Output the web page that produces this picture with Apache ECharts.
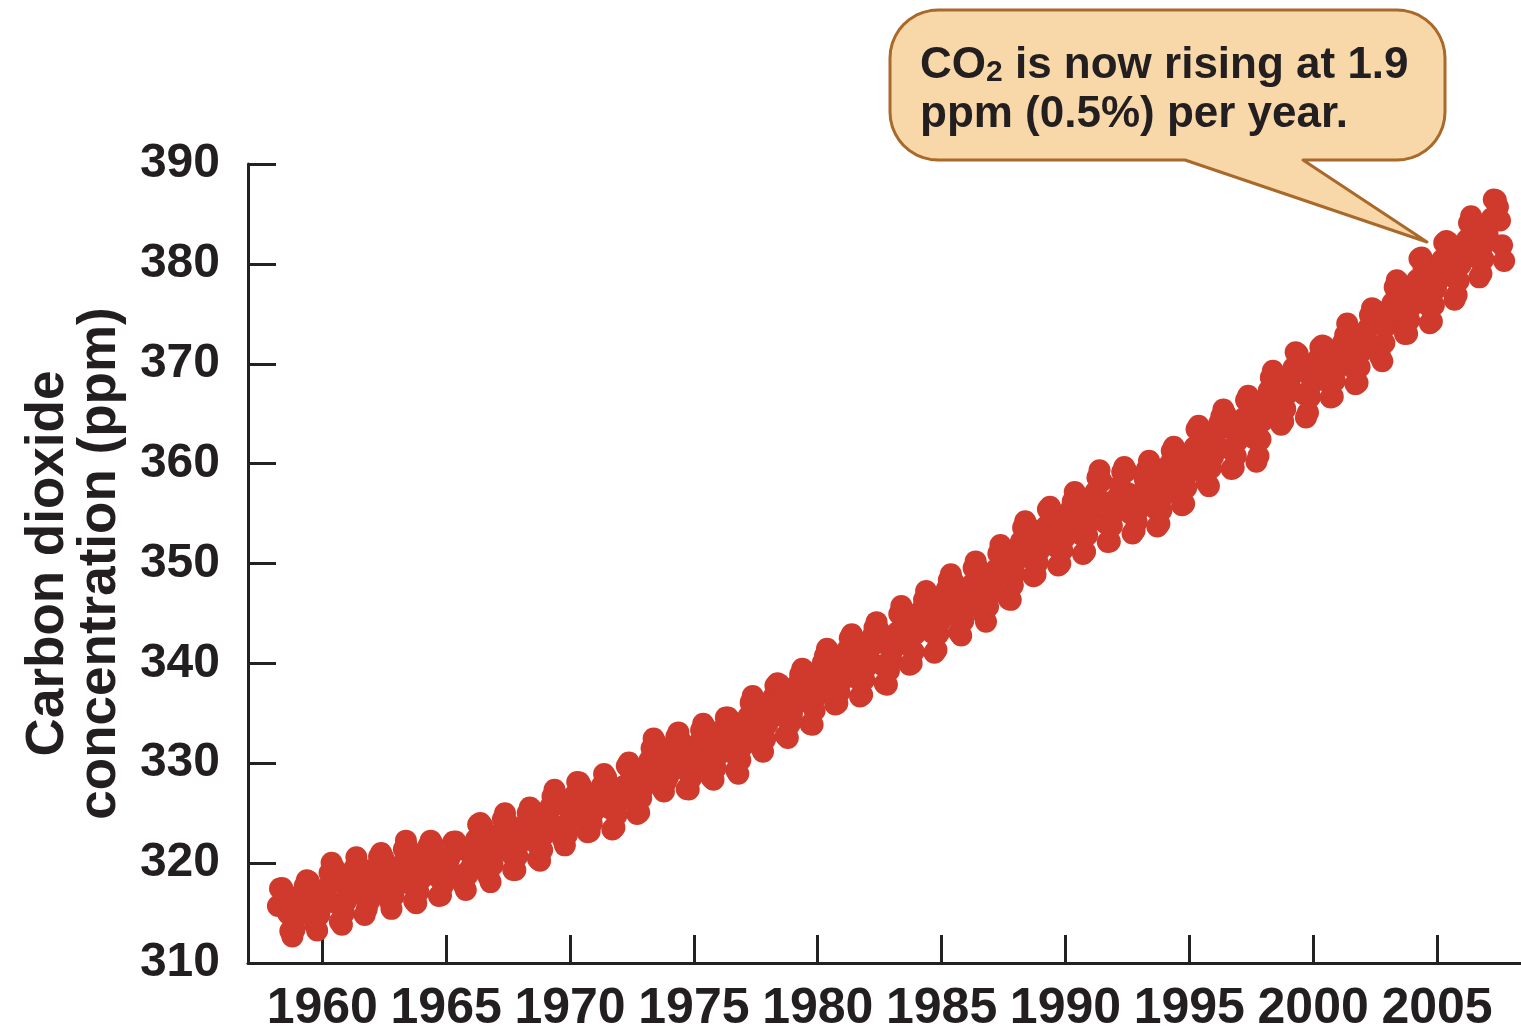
<!DOCTYPE html>
<html>
<head>
<meta charset="utf-8">
<script src="https://cdn.jsdelivr.net/npm/echarts@6/dist/echarts.min.js"></script>
<style>
  html, body { margin: 0; padding: 0; background: #ffffff; }
  #chart { width: 1521px; height: 1034px; }
</style>
</head>
<body>
<div id="chart"></div>
<script>
// Monthly CO2 (ppm), Mauna Loa (starts March 1958)
const startYear = 1958, startMonth = 3;
const co2_1950s = [315.71, 317.45, 317.50, 317.10, 315.86, 314.93, 313.20, 312.66, 313.33, 314.67,
  315.62, 316.38, 316.71, 317.72, 318.29, 318.15, 316.54, 314.80, 313.84, 313.26, 314.80, 315.58];
const co2_1960s = [
  316.43, 316.97, 317.58, 319.02, 320.03, 319.59, 318.18, 315.91, 314.16, 313.83, 315.00, 316.19,
  316.93, 317.70, 318.54, 319.48, 320.58, 319.77, 318.57, 316.79, 314.80, 315.38, 316.10, 317.01,
  317.94, 318.56, 319.68, 320.63, 321.01, 320.55, 319.58, 317.40, 316.26, 315.42, 316.69, 317.69,
  318.74, 319.08, 319.86, 321.39, 322.25, 321.47, 319.74, 317.77, 316.21, 315.99, 317.12, 318.31,
  319.57, 320.07, 320.73, 321.77, 322.25, 321.89, 320.44, 318.70, 316.70, 316.79, 317.79, 318.71,
  319.44, 320.44, 320.89, 322.13, 322.16, 321.87, 321.39, 318.80, 317.81, 317.30, 318.87, 319.42,
  320.62, 321.59, 322.39, 323.87, 324.01, 323.75, 322.39, 320.37, 318.64, 318.10, 319.79, 321.08,
  322.07, 322.50, 323.04, 324.42, 325.00, 324.09, 322.55, 320.92, 319.31, 319.31, 320.72, 321.96,
  322.57, 323.15, 323.89, 325.02, 325.57, 325.36, 324.14, 322.03, 320.41, 320.25, 321.31, 322.84,
  324.00, 324.42, 325.64, 326.66, 327.34, 326.76, 325.88, 323.67, 322.38, 321.78, 322.85, 324.11];
const co2_1970s = [
  325.03, 325.99, 326.87, 328.13, 328.07, 327.66, 326.35, 324.69, 323.10, 323.16, 323.98, 325.13,
  326.17, 326.68, 327.18, 327.78, 328.92, 328.57, 327.34, 325.46, 323.36, 323.57, 324.80, 326.01,
  326.77, 327.63, 327.75, 329.72, 330.07, 329.09, 328.05, 326.32, 324.93, 325.06, 326.50, 327.55,
  328.54, 329.56, 330.30, 331.50, 332.48, 332.07, 330.87, 329.31, 327.51, 327.18, 328.16, 328.64,
  329.35, 330.71, 331.48, 332.65, 333.09, 332.25, 331.18, 329.40, 327.43, 327.37, 328.46, 329.57,
  330.40, 331.40, 332.04, 333.31, 333.96, 333.59, 331.91, 330.06, 328.56, 328.34, 329.49, 330.76,
  331.75, 332.56, 333.50, 334.58, 334.57, 334.34, 333.05, 330.94, 329.30, 328.94, 330.31, 331.68,
  332.93, 333.42, 334.70, 336.07, 336.74, 336.27, 334.93, 332.75, 331.58, 331.16, 332.40, 333.85,
  334.97, 335.39, 336.64, 337.76, 338.01, 337.89, 336.54, 334.68, 332.76, 332.54, 333.92, 334.95,
  336.23, 336.76, 337.96, 338.89, 339.47, 339.29, 337.73, 336.09, 333.91, 333.86, 335.29, 336.73];
const co2_1980s = [
  338.01, 338.36, 340.08, 340.77, 341.46, 341.17, 339.56, 337.60, 335.88, 336.01, 337.10, 338.21,
  339.24, 340.48, 341.38, 342.51, 342.91, 342.25, 340.49, 338.43, 336.69, 336.85, 338.36, 339.61,
  340.75, 341.61, 342.70, 343.56, 344.13, 343.35, 342.06, 339.82, 337.97, 337.86, 339.26, 340.49,
  341.38, 342.52, 343.10, 344.94, 345.75, 345.32, 343.99, 342.39, 339.86, 339.99, 341.16, 342.99,
  343.82, 344.63, 345.38, 346.37, 347.24, 346.62, 345.24, 343.08, 341.07, 341.35, 342.98, 344.22,
  344.97, 345.99, 347.42, 348.35, 348.93, 348.25, 346.56, 344.69, 343.09, 342.80, 344.24, 345.56,
  346.29, 346.96, 347.86, 349.55, 350.21, 349.54, 347.94, 345.91, 344.86, 344.17, 345.66, 346.90,
  348.02, 348.48, 349.42, 350.99, 351.84, 351.25, 349.52, 348.10, 346.44, 346.36, 347.81, 348.96,
  350.43, 351.72, 352.22, 353.59, 354.22, 353.79, 352.39, 350.44, 348.72, 348.88, 350.07, 351.34,
  352.76, 353.07, 353.68, 355.42, 355.67, 355.13, 353.90, 351.67, 349.80, 349.99, 351.30, 352.53];
const co2_1990s = [
  353.66, 354.70, 355.39, 356.20, 357.16, 356.22, 354.82, 352.91, 350.96, 351.18, 352.83, 354.21,
  354.72, 355.75, 357.16, 358.60, 359.34, 358.24, 356.17, 354.03, 352.16, 352.21, 353.75, 354.99,
  355.99, 356.72, 357.81, 359.15, 359.66, 359.25, 357.02, 355.00, 353.01, 353.31, 354.16, 355.40,
  356.70, 357.17, 358.38, 359.46, 360.28, 359.60, 357.57, 355.52, 353.70, 353.98, 355.33, 356.80,
  358.36, 358.91, 359.97, 361.26, 361.68, 360.95, 359.55, 357.49, 355.84, 355.99, 357.58, 359.04,
  359.96, 361.00, 361.64, 363.45, 363.79, 363.26, 361.90, 359.46, 358.06, 357.75, 359.56, 360.70,
  362.05, 363.25, 364.03, 364.72, 365.41, 364.97, 363.65, 361.49, 359.46, 359.60, 360.76, 362.33,
  363.18, 364.00, 364.57, 366.35, 366.79, 365.62, 364.47, 362.51, 360.19, 360.77, 362.43, 364.28,
  365.32, 366.15, 367.31, 368.61, 369.29, 368.87, 367.64, 365.77, 363.90, 364.23, 365.46, 366.97,
  368.15, 368.87, 369.59, 371.14, 371.00, 370.35, 369.27, 366.94, 364.63, 365.12, 366.67, 368.01];
const co2_2000s = [
  369.14, 369.46, 370.52, 371.66, 371.82, 371.70, 370.12, 368.12, 366.62, 366.73, 368.29, 369.53,
  370.28, 371.50, 372.12, 372.87, 374.02, 373.30, 371.62, 369.55, 367.96, 368.09, 369.68, 371.24,
  372.44, 373.08, 373.52, 374.85, 375.55, 375.40, 374.02, 371.49, 370.71, 370.25, 372.08, 373.78,
  374.68, 375.63, 376.11, 377.65, 378.35, 378.13, 376.62, 374.50, 372.99, 373.00, 374.35, 375.70,
  376.79, 377.37, 378.41, 380.52, 380.63, 379.57, 377.79, 375.86, 374.06, 374.24, 375.86, 377.48,
  378.37, 379.69, 380.41, 382.10, 382.28, 382.13, 380.66, 378.71, 376.42, 376.88, 378.32, 379.92,
  381.18, 381.83, 382.42, 384.09, 384.77, 384.20, 382.42, 380.62, 378.65, 379.01, 380.46, 382.12,
  382.92, 383.93, 384.56, 386.44, 386.37, 385.70, 384.35, 381.86, 380.30];

const yearTicks = [1960, 1965, 1970, 1975, 1980, 1985, 1990, 1995, 2000, 2005];
const yTicks = [310, 320, 330, 340, 350, 360, 370, 380, 390];
const yTitle = 'Carbon dioxide\nconcentration (ppm)';
const calloutLine1 = ['CO', '2', ' is now rising at 1.9'];
const calloutLine2 = 'ppm (0.5%) per year.';

const allValues = [].concat(co2_1950s, co2_1960s, co2_1970s, co2_1980s, co2_1990s, co2_2000s);
// place each monthly value at the middle of its month (decimal year)
const points = allValues.map((v, i) => {
  const monthIndex = (startMonth - 1) + i;
  return [startYear + (monthIndex + 0.5) / 12, v];
});

// speech bubble outline: rounded box with a tail (decoration only)
function bubblePoints(x0, y0, x1, y1, r, tail) {
  const pts = [];
  function arc(cx, cy, a0, a1) {
    const n = 10;
    for (let k = 0; k <= n; k++) {
      const a = a0 + (a1 - a0) * k / n;
      pts.push([cx + r * Math.cos(a), cy + r * Math.sin(a)]);
    }
  }
  arc(x0 + r, y0 + r, Math.PI, Math.PI * 1.5);          // top-left
  arc(x1 - r, y0 + r, Math.PI * 1.5, Math.PI * 2);      // top-right
  arc(x1 - r, y1 - r, 0, Math.PI * 0.5);                // bottom-right
  pts.push([tail[0], y1], [tail[1], tail[2]], [tail[3], y1]);
  arc(x0 + r, y1 - r, Math.PI * 0.5, Math.PI);          // bottom-left
  return pts;
}

const FONT = '"Liberation Sans", Arial, Helvetica, sans-serif';
const chart = echarts.init(document.getElementById('chart'), null, { renderer: 'canvas' });

chart.setOption({
  backgroundColor: '#ffffff',
  animation: false,
  grid: { left: 248, right: 0, top: 164, bottom: 1034 - 966, containLabel: false },
  xAxis: {
    type: 'value',
    min: 1957,
    max: 2008.39,
    axisLine: { show: true, onZero: false, lineStyle: { color: '#222222', width: 3 } },
    axisTick: { show: true, inside: true, length: 28, lineStyle: { color: '#222222', width: 3 },
      customValues: yearTicks },
    axisLabel: { show: true, customValues: yearTicks, margin: 21, fontSize: 50, fontWeight: 'bold',
      fontFamily: FONT, color: '#231f20', formatter: v => String(v) },
    splitLine: { show: false }
  },
  yAxis: {
    type: 'value',
    min: 310,
    max: 390,
    interval: 10,
    axisLine: { show: true, onZero: false, lineStyle: { color: '#222222', width: 3 } },
    axisTick: { show: true, inside: true, length: 28, lineStyle: { color: '#222222', width: 3 } },
    axisLabel: { show: true, margin: 28, fontSize: 48, fontWeight: 'bold', fontFamily: FONT,
      color: '#231f20', formatter: v => (yTicks.indexOf(v) >= 0 ? String(v) : '') },
    splitLine: { show: false },
    name: yTitle,
    nameLocation: 'middle',
    nameGap: 122,
    nameRotate: 90,
    nameTextStyle: { fontSize: 53, fontWeight: 'bold', fontFamily: FONT, color: '#231f20',
      lineHeight: 52, align: 'center' }
  },
  series: [{
    type: 'scatter',
    data: points,
    symbol: 'circle',
    symbolSize: 22,
    itemStyle: { color: '#cf3a2d', opacity: 1 },
    emphasis: { disabled: true },
    z: 2
  }],
  graphic: [
    {
      type: 'polygon',
      z: 10,
      shape: { points: bubblePoints(890, 10, 1445, 160, 48, [1303, 1427, 242, 1185]) },
      style: { fill: '#f8d8a8', stroke: '#a8692b', lineWidth: 3, lineJoin: 'round' }
    },
    {
      type: 'text',
      z: 11,
      x: 920,
      y: 63,
      style: {
        text: '{a|' + calloutLine1[0] + '}{s|' + calloutLine1[1] + '}{a|' + calloutLine1[2] + '}',
        align: 'left',
        verticalAlign: 'middle',
        rich: {
          a: { fontSize: 44, fontWeight: 'bold', fontFamily: FONT, fill: '#231f20', lineHeight: 50, verticalAlign: 'bottom' },
          s: { fontSize: 30, fontWeight: 'bold', fontFamily: FONT, fill: '#231f20', lineHeight: 30, verticalAlign: 'bottom' }
        }
      }
    },
    {
      type: 'text',
      z: 11,
      x: 920,
      y: 115,
      style: {
        text: calloutLine2,
        align: 'left',
        verticalAlign: 'middle',
        fontSize: 44,
        fontWeight: 'bold',
        fontFamily: FONT,
        fill: '#231f20'
      }
    }
  ]
});
</script>
</body>
</html>
